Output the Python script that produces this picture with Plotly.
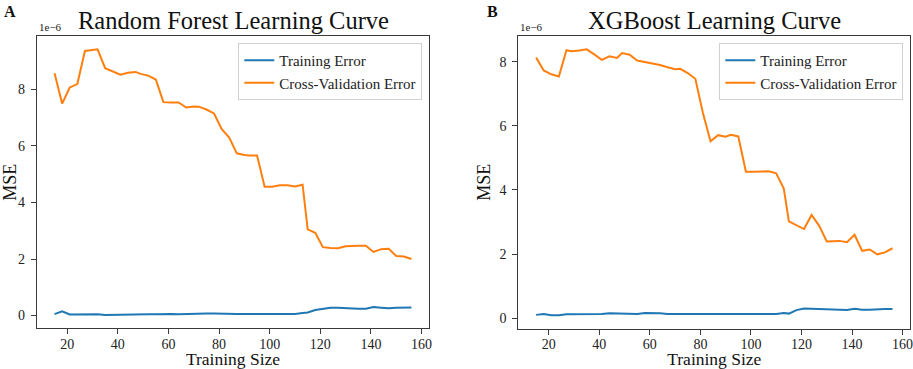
import plotly.graph_objects as go

# ---------------- data (MSE values in units of 1e-6) ----------------
train_sizes = [15, 18, 21, 24, 27, 29, 32, 35, 38, 41, 44, 47, 49, 52, 55, 58, 61, 64, 67, 70,
               72, 75, 78, 81, 84, 87, 90, 92, 95, 98, 101, 104, 107, 110, 113, 115, 118, 121, 124, 127,
               130, 133, 135, 138, 141, 144, 147, 150, 153, 156]

rf_train = [0.05, 0.15, 0.04, 0.04, 0.05, 0.05, 0.05, 0.02, 0.03, 0.03,
            0.04, 0.04, 0.04, 0.05, 0.05, 0.06, 0.06, 0.05, 0.06, 0.06,
            0.06, 0.07, 0.07, 0.06, 0.06, 0.06, 0.06, 0.06, 0.05, 0.06,
            0.06, 0.06, 0.05, 0.06, 0.09, 0.11, 0.20, 0.25, 0.28, 0.28,
            0.26, 0.25, 0.24, 0.24, 0.30, 0.28, 0.26, 0.28, 0.28, 0.29]

rf_cv = [8.57, 7.50, 8.07, 8.19, 9.36, 9.39, 9.42, 8.75, 8.64, 8.52,
         8.59, 8.62, 8.55, 8.49, 8.35, 7.55, 7.54, 7.54, 7.36, 7.40,
         7.39, 7.29, 7.15, 6.60, 6.30, 5.74, 5.68, 5.66, 5.66, 4.56,
         4.56, 4.61, 4.61, 4.57, 4.63, 3.05, 2.93, 2.42, 2.39, 2.38,
         2.45, 2.47, 2.47, 2.47, 2.25, 2.35, 2.36, 2.11, 2.09, 2.00]

xgb_train = [0.10, 0.13, 0.09, 0.09, 0.12, 0.12, 0.12, 0.12, 0.13, 0.13,
             0.15, 0.14, 0.14, 0.13, 0.13, 0.16, 0.16, 0.15, 0.13, 0.12,
             0.13, 0.13, 0.13, 0.14, 0.14, 0.14, 0.14, 0.14, 0.14, 0.14,
             0.14, 0.13, 0.13, 0.13, 0.16, 0.14, 0.25, 0.30, 0.29, 0.28,
             0.26, 0.26, 0.25, 0.25, 0.29, 0.26, 0.26, 0.28, 0.28, 0.28]

xgb_cv = [8.13, 7.73, 7.61, 7.54, 8.36, 8.33, 8.35, 8.39, 8.23, 8.06,
          8.17, 8.12, 8.27, 8.22, 8.04, 7.99, 7.96, 7.90, 7.83, 7.77,
          7.78, 7.65, 7.47, 6.40, 5.52, 5.71, 5.66, 5.72, 5.67, 4.57,
          4.57, 4.57, 4.58, 4.52, 4.04, 3.02, 2.91, 2.78, 3.22, 2.88,
          2.39, 2.39, 2.41, 2.37, 2.60, 2.10, 2.14, 1.99, 2.05, 2.18]

titles = ["Random Forest Learning Curve", "XGBoost Learning Curve"]
panel_labels = ["A", "B"]
series_names = ["Training Error", "Cross-Validation Error"]
x_title = "Training Size"
y_title = "MSE"
x_ticks = [20, 40, 60, 80, 100, 120, 140, 160]
y_ticks = [0, 2, 4, 6, 8]
exp_label = "1e\u22126"

# ---------------- styling ----------------
W, H = 913, 369
FONT = "Liberation Serif, Times New Roman, serif"
BLUE, ORANGE = "#1f77b4", "#ff7f0e"
AXC = "#3a3a3a"


def auto_range(vals, m=0.05):
    lo, hi = min(vals), max(vals)
    d = (hi - lo) * m
    return [lo - d, hi + d]


# axis pixel boxes (left, right, top, bottom)
boxes = [(36.7, 429.3, 36.0, 328.3), (518.3, 910.3, 36.0, 328.5)]

fig = go.Figure()

panels = [(rf_train, rf_cv), (xgb_train, xgb_cv)]
for k, (tr, cv) in enumerate(panels):
    xa = "x" if k == 0 else "x2"
    ya = "y" if k == 0 else "y2"
    leg = "legend" if k == 0 else "legend2"
    fig.add_trace(go.Scatter(x=train_sizes, y=tr, mode="lines", name=series_names[0],
                             line=dict(color=BLUE, width=2), xaxis=xa, yaxis=ya, legend=leg))
    fig.add_trace(go.Scatter(x=train_sizes, y=cv, mode="lines", name=series_names[1],
                             line=dict(color=ORANGE, width=2), xaxis=xa, yaxis=ya, legend=leg))

layout = dict(width=W, height=H, margin=dict(l=0, r=0, t=0, b=0, autoexpand=False),
              paper_bgcolor="white", plot_bgcolor="white",
              font=dict(family=FONT, color="#111111"), annotations=[])

for k, (tr, cv) in enumerate(panels):
    l, r, t, b = boxes[k]
    sfx = "" if k == 0 else "2"
    xr = auto_range(train_sizes)
    yr = auto_range(tr + cv)
    common = dict(showline=True, linecolor=AXC, linewidth=1, mirror=True, showgrid=False,
                  zeroline=False, ticks="outside", ticklen=5, tickcolor=AXC, tickwidth=1,
                  automargin=False, ticklabeloverflow="allow",
                  tickfont=dict(size=14, family=FONT, color="#222222"))
    layout["xaxis" + sfx] = dict(domain=[l / W, r / W], range=xr, tickvals=x_ticks,
                                 anchor="y" + sfx, ticklabelstandoff=-2,
                                 title=dict(text=x_title, font=dict(size=17.5, family=FONT), standoff=8),
                                 **common)
    layout["yaxis" + sfx] = dict(domain=[(H - b) / H, (H - t) / H], range=yr, tickvals=y_ticks,
                                 anchor="x" + sfx, ticklabelstandoff=3,
                                 title=dict(text=y_title, font=dict(size=18, family=FONT), standoff=4),
                                 **common)
    layout["legend" if k == 0 else "legend2"] = dict(
        x=(r - 7) / W, xanchor="right", y=(H - 43) / H, yanchor="top",
        bordercolor="#d0d0d0", borderwidth=1, bgcolor="white",
        font=dict(size=15, family=FONT, color="#222222"), tracegroupgap=0)
    layout["annotations"].append(dict(text=titles[k], x=(l + r) / 2 / W, y=(H - 21) / H,
                                      xref="paper", yref="paper", showarrow=False,
                                      xanchor="center", yanchor="middle",
                                      font=dict(size=24.5, family=FONT, color="#111111")))
    layout["annotations"].append(dict(text=exp_label, x=l / W, y=(H - 35) / H,
                                      xref="paper", yref="paper", showarrow=False,
                                      xanchor="left", yanchor="bottom",
                                      font=dict(size=11, family=FONT, color="#222222")))
    lx = 2 if k == 0 else 485
    layout["annotations"].append(dict(text="<b>" + panel_labels[k] + "</b>", x=lx / W, y=(H - 1) / H,
                                      xref="paper", yref="paper", showarrow=False,
                                      xanchor="left", yanchor="top",
                                      font=dict(size=16, family=FONT, color="#111111")))

fig.update_layout(**layout)
fig.write_html("out.html", config={"displayModeBar": False},
               post_script="document.body.style.margin='0';document.body.style.overflow='hidden';")
